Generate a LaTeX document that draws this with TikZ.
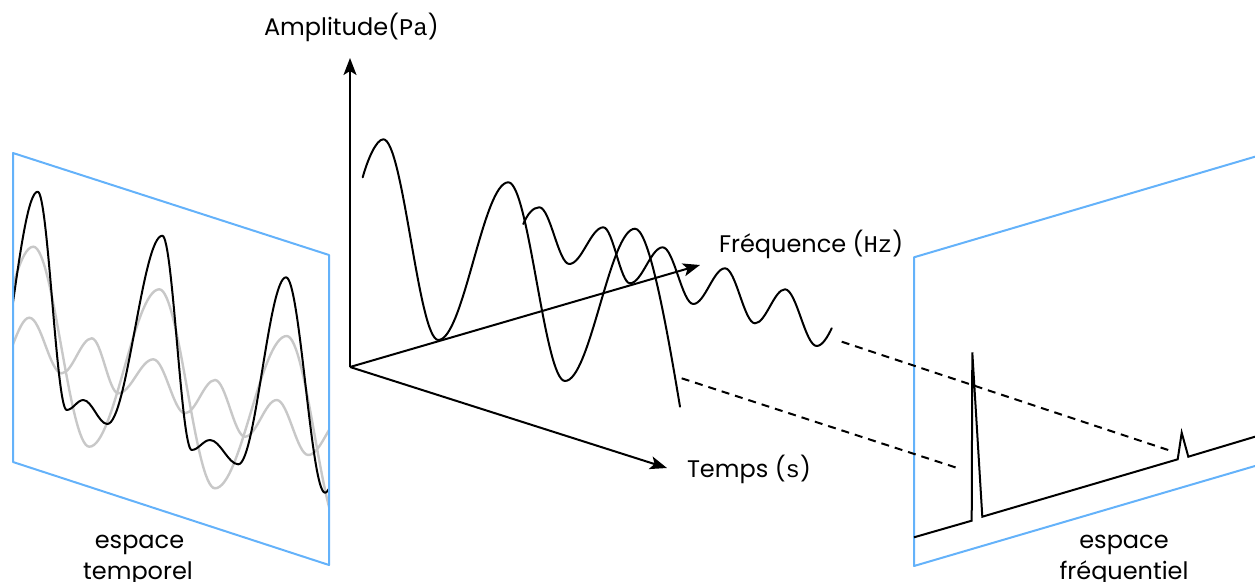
\documentclass[tikz,border=0pt]{standalone}
\usepackage{fontspec}
\setmainfont{Poppins}
\setmonofont{Liberation Mono}
\usetikzlibrary{arrows.meta}
\definecolor{panelblue}{RGB}{100,178,250}
\definecolor{wavegray}{RGB}{200,200,200}
\tikzset{
  wave/.style={black, line width=2pt, line cap=round, line join=round},
  gwave/.style={wavegray, line width=2.4pt, line cap=round},
  panel/.style={panelblue, line width=2pt, line join=round},
  axis/.style={black, line width=2pt, -{Stealth[length=17pt,width=13pt,inset=4pt]}},
  dashline/.style={black, line width=2pt, dash pattern=on 8pt off 6pt},
  spec/.style={black, line width=2pt, line join=miter},
  lab/.style={font=\fontsize{24}{31}\selectfont, inner sep=0pt, outer sep=0pt}
}
\begin{document}
\begin{tikzpicture}[x=1pt,y=-1pt]
\useasboundingbox (0,0) rectangle (1255,581);

% ---------- left panel : time space ----------
\coordinate (L1) at (13,153);
\coordinate (L2) at (329,255);
\coordinate (L3) at (329,565);
\coordinate (L4) at (13,462);
\begin{scope}
\clip (L1) -- (L2) -- (L3) -- (L4) -- cycle;
% gray component 1
\draw[gwave] (-36.7,446.7)
  .. controls +(25.2,0) and +(-25.2,0) .. (33.3,246.7)
  .. controls +(20.2,0) and +(-20.2,0) .. (89.3,446.7)
  .. controls +(25.2,0) and +(-25.2,0) .. (159.3,289.3)
  .. controls +(20,0) and +(-20,0) .. (215,488.3)
  .. controls +(25.8,0) and +(-25.8,0) .. (286.7,336)
  .. controls +(20.2,0) and +(-20.2,0) .. (342.7,535);
% gray component 2
\draw[gwave] (-3,370)
  .. controls +(11.6,0) and +(-11.6,0) .. (29.3,317.7)
  .. controls +(11.7,0) and +(-11.7,0) .. (61.7,373.3)
  .. controls +(10.8,0) and +(-10.8,0) .. (91.7,338.3)
  .. controls +(9.6,0) and +(-9.6,0) .. (118.3,393.3)
  .. controls +(12.6,0) and +(-12.6,0) .. (153.3,359.3)
  .. controls +(11.4,0) and +(-11.4,0) .. (185,413.3)
  .. controls +(10.8,0) and +(-10.8,0) .. (215,380)
  .. controls +(10.8,0) and +(-10.8,0) .. (245,436.7)
  .. controls +(11.4,0) and +(-11.4,0) .. (276.7,400)
  .. controls +(11.4,0) and +(-11.4,0) .. (308.3,455)
  .. controls +(12.9,0) and +(-12.9,0) .. (344,415);
% black sum
\draw[wave] (-12,415)
  .. controls +(17.9,0) and +(-17.9,0) .. (37.7,191.7)
  .. controls +(10.4,0) and +(-10.4,0) .. (66.7,410)
  .. controls +(6,0) and +(-6,0) .. (83.3,400)
  .. controls +(8.6,0) and +(-8.6,0) .. (107.3,424)
  .. controls +(19.8,0) and +(-19.8,0) .. (162.3,235.7)
  .. controls +(10.6,0) and +(-10.6,0) .. (191.7,450)
  .. controls +(6.6,0) and +(-6.6,0) .. (210,440)
  .. controls +(10.2,0) and +(-10.2,0) .. (238.3,464.3)
  .. controls +(17.2,0) and +(-17.2,0) .. (286,277.3)
  .. controls +(14,0) and +(-14,0) .. (325,492.7)
  .. controls +(14.4,0) and +(-14.4,0) .. (365,330);
\end{scope}
\draw[panel] (L1) -- (L2) -- (L3) -- (L4) -- cycle;

% ---------- axes ----------
\coordinate (O) at (350,367);
\coordinate (A) at (350,58);
\coordinate (F) at (700,265);
\coordinate (T) at (667,468);
\draw[axis] (O) -- (A);
\draw[axis] (O) -- (F);
\draw[axis] (O) -- (T);

% ---------- central waves ----------
\draw[wave] (362.7,177.3)
  .. controls (367.7,159.3) and (376.3,139.3) .. (383.3,139.3)
  .. controls +(19.8,0) and +(-19.8,0) .. (438.3,340)
  .. controls +(25.2,0) and +(-25.2,0) .. (508.3,182.3)
  .. controls +(20.4,0) and +(-20.4,0) .. (565,381)
  .. controls +(25.2,0) and +(-25.2,0) .. (635,228.7)
  .. controls (648,228.7) and (664,310) .. (680,406.7);
\draw[wave] (523.3,224)
  .. controls (527.5,214) and (533,207.3) .. (539.3,207.3)
  .. controls +(10.8,0) and +(-10.8,0) .. (569.3,264)
  .. controls +(12.2,0) and +(-12.2,0) .. (603.3,227.3)
  .. controls +(9.6,0) and +(-9.6,0) .. (630,283.3)
  .. controls +(11.8,0) and +(-11.8,0) .. (662.7,247.3)
  .. controls +(11,0) and +(-11,0) .. (693.3,304)
  .. controls +(11.4,0) and +(-11.4,0) .. (725,268.3)
  .. controls +(10.8,0) and +(-10.8,0) .. (755,323.3)
  .. controls +(10.8,0) and +(-10.8,0) .. (785,289.3)
  .. controls +(11.4,0) and +(-11.4,0) .. (816.7,346)
  .. controls (822.5,346) and (828,336) .. (831.7,328.3);

% ---------- right panel : frequency space ----------
\coordinate (R1) at (914,257.3);
\coordinate (R2) at (1255,156.7);
\coordinate (R3) at (1255,466);
\coordinate (R4) at (914,566);
\draw[panel] (R2) -- (R1) -- (R4) -- (R3);
\draw[spec] (914,537.3) -- (971.7,520.7) -- (972.3,352.3) -- (982.3,516.7)
  -- (1177.7,459.3) -- (1181.7,432.7) -- (1188.3,456.7) -- (1255,436.7);

% ---------- projection lines ----------
\coordinate (D1a) at (841.7,341.7);
\coordinate (D1b) at (1173.3,451.7);
\coordinate (D2a) at (681.7,378.3);
\coordinate (D2b) at (958.3,468.3);
\draw[dashline] (D1a) -- (D1b);
\draw[dashline] (D2a) -- (D2b);

% ---------- labels ----------
\node[lab, anchor=base west] (amp) at (264,35) {Amplitude(\texttt{Pa})};
\node[lab, anchor=base west] (freq) at (719,252) {Fréquence (\texttt{Hz})};
\node[lab, anchor=base west] (temps) at (687,477) {Temps (\texttt{s})};
\node[lab, anchor=base] (et1) at (139.5,548) {espace};
\node[lab, anchor=base] (et2) at (138,579) {temporel};
\node[lab, anchor=base] (ef1) at (1124,548) {espace};
\node[lab, anchor=base] (ef2) at (1124,579) {fréquentiel};
\end{tikzpicture}
\end{document}
